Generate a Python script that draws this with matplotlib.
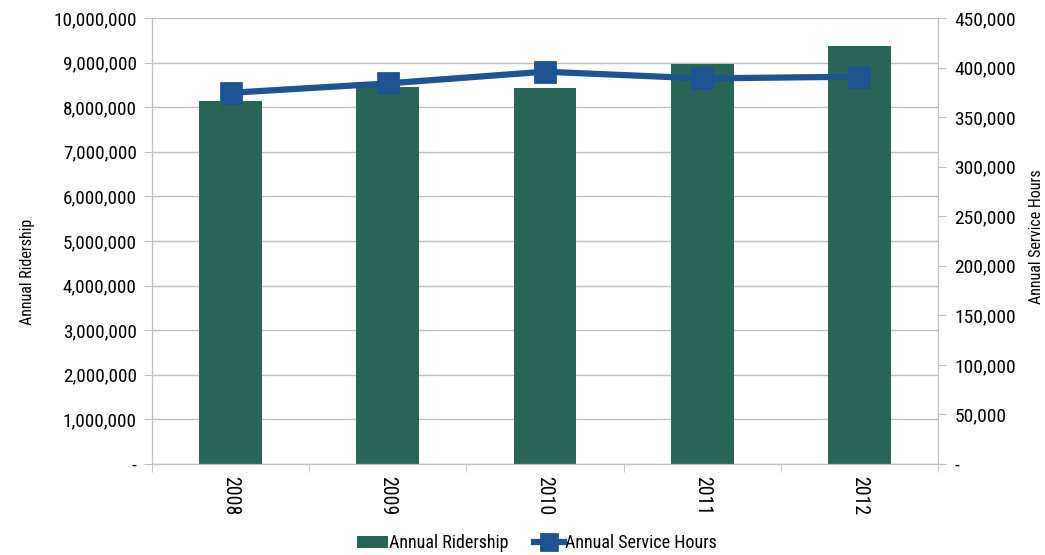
import matplotlib
matplotlib.use("Agg")
import matplotlib.pyplot as plt
from matplotlib.ticker import FuncFormatter, MultipleLocator
from matplotlib.font_manager import fontManager

years = ["2008", "2009", "2010", "2011", "2012"]
ridership = [8140000, 8460000, 8440000, 8970000, 9370000]
service_hours = [374500, 384000, 395800, 389000, 390800]

names = {f.name for f in fontManager.ttflist}
family = [n for n in ["Roboto Condensed", "Liberation Sans Narrow", "Liberation Sans", "DejaVu Sans"] if n in names]
plt.rcParams["font.family"] = family

bar_color = "#2a6657"
line_color = "#1f5494"
grid_color = "#bfbfbf"

fig = plt.figure(figsize=(10.45, 5.55), dpi=100)
ax = fig.add_axes([0.1455, 0.164, 0.752, 0.8036])
ax2 = ax.twinx()

x = list(range(len(years)))
ax.bar(x, ridership, width=0.4, color=bar_color, zorder=2, label="Annual Ridership")
ax2.plot(x, service_hours, color=line_color, lw=4.5, marker="s", ms=14,
         mec=line_color, mfc=line_color, mew=2, solid_joinstyle="round",
         label="Annual Service Hours", zorder=3)

ax.set_xlim(-0.5, len(years) - 0.5)
ax.set_ylim(0, 10000000)
ax2.set_ylim(0, 450000)
ax.yaxis.set_major_locator(MultipleLocator(1000000))
ax2.yaxis.set_major_locator(MultipleLocator(50000))

fmt = FuncFormatter(lambda v, p: "-" if v == 0 else f"{int(round(v)):,}")
ax.yaxis.set_major_formatter(fmt)
ax2.yaxis.set_major_formatter(fmt)

ax.set_xticks(x)
ax.set_xticklabels(years, rotation=270, fontsize=14.3)
ax.set_xticks([i - 0.5 for i in range(len(years) + 1)], minor=True)
ax.tick_params(axis="x", which="major", length=0, pad=9)
ax.tick_params(axis="x", which="minor", length=6, color=grid_color)
ax.tick_params(axis="y", length=6, color=grid_color, labelsize=13.8, pad=5)
ax2.tick_params(axis="y", length=6, color=grid_color, labelsize=14, pad=6)

ax.grid(axis="y", color=grid_color, lw=1, zorder=0)
ax.set_axisbelow(True)
for a in (ax, ax2):
    a.spines["top"].set_visible(False)
    for s in ("left", "right", "bottom"):
        a.spines[s].set_color(grid_color)

ax.set_ylabel("Annual Ridership", fontsize=11.5, ha="center", va="center")
ax.yaxis.set_label_coords(-0.159, 0.43)
ax2.set_ylabel("Annual Service Hours", fontsize=11.5, rotation=90, ha="center", va="center")
ax2.yaxis.set_label_coords(1.126, 0.51)

h1, l1 = ax.get_legend_handles_labels()
h2, l2 = ax2.get_legend_handles_labels()
fig.legend(h1 + h2, l1 + l2, loc="center", bbox_to_anchor=(0.514, 0.021),
           ncol=2, frameon=False, fontsize=13, handlelength=1.7,
           handletextpad=0.05, columnspacing=1.4, markerscale=0.8)

fig.savefig("out.png", dpi=100)
